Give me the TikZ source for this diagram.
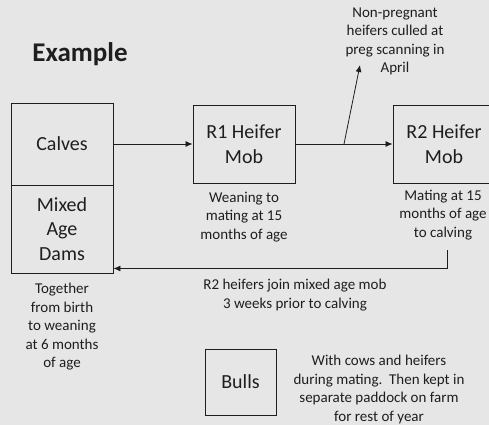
\documentclass[tikz,border=0pt]{standalone}
\usepackage{fontspec}
\setmainfont{Carlito}
\usetikzlibrary{arrows.meta}

\definecolor{bgcol}{RGB}{230,230,230}
\definecolor{ink}{RGB}{30,30,30}

\begin{document}
\begin{tikzpicture}[x=1pt,y=-1pt]

\tikzset{box/.style = {draw=ink,line width=0.9pt,inner sep=0pt,align=center,text=ink,font=\fontsize{20}{24.5}\selectfont}}
\tikzset{note/.style = {align=center,text=ink,font=\fontsize{15}{18.5}\selectfont}}
\tikzset{edge/.style = {->,> = {Latex[length=7pt,width=6pt]},draw=ink,line width=0.8pt}}

\fill[bgcol] (0,0) rectangle (489,425);
\useasboundingbox (0,0) rectangle (489,425);

\node[text=ink,font=\fontsize{27}{32}\selectfont\bfseries] (title) at (80,54) {Example};

\node[box,minimum width=102pt,minimum height=82pt] (calves) at (62,144) {Calves};
\node[box,minimum width=102pt,minimum height=88pt] (dams) at (62,229) {Mixed\\Age\\Dams};
\node[box,minimum width=102pt,minimum height=78pt] (r1) at (244,144) {R1 Heifer\\Mob};
\node[box,minimum width=102pt,minimum height=78pt] (r2) at (444,144) {R2 Heifer\\Mob};
\node[box,minimum width=71pt,minimum height=66pt] (bulls) at (240.5,382) {Bulls};

\node[note] (damsnote) at (62,327) {Together\\from birth\\to weaning\\at 6 months\\of age};
\node[note] (r1note) at (244,217) {Weaning to\\mating at 15\\months of age};
\node[note] (r2note) at (443,215) {Mating at 15\\months of age\\to calving};
\node[note] (cullnote) at (395,41.5) {Non-pregnant\\heifers culled at\\preg scanning in\\April};
\node[note] (backnote) at (295,295) {R2 heifers join mixed age mob\\3 weeks prior to calving};
\node[note] (bullsnote) at (379,389.5) {With cows and heifers\\during mating.\ \ Then kept in\\separate paddock on farm\\for rest of year};

\coordinate (split) at (344,144);
\coordinate (cull) at (360,65);
\coordinate (back) at (447,250);

\draw[edge] (calves) -- (r1);
\draw[edge] (r1) -- (r2);
\draw[edge] (split) -- (cull);
\draw[edge] (back) |- ([yshift=5pt]dams.south east);

\end{tikzpicture}
\end{document}
